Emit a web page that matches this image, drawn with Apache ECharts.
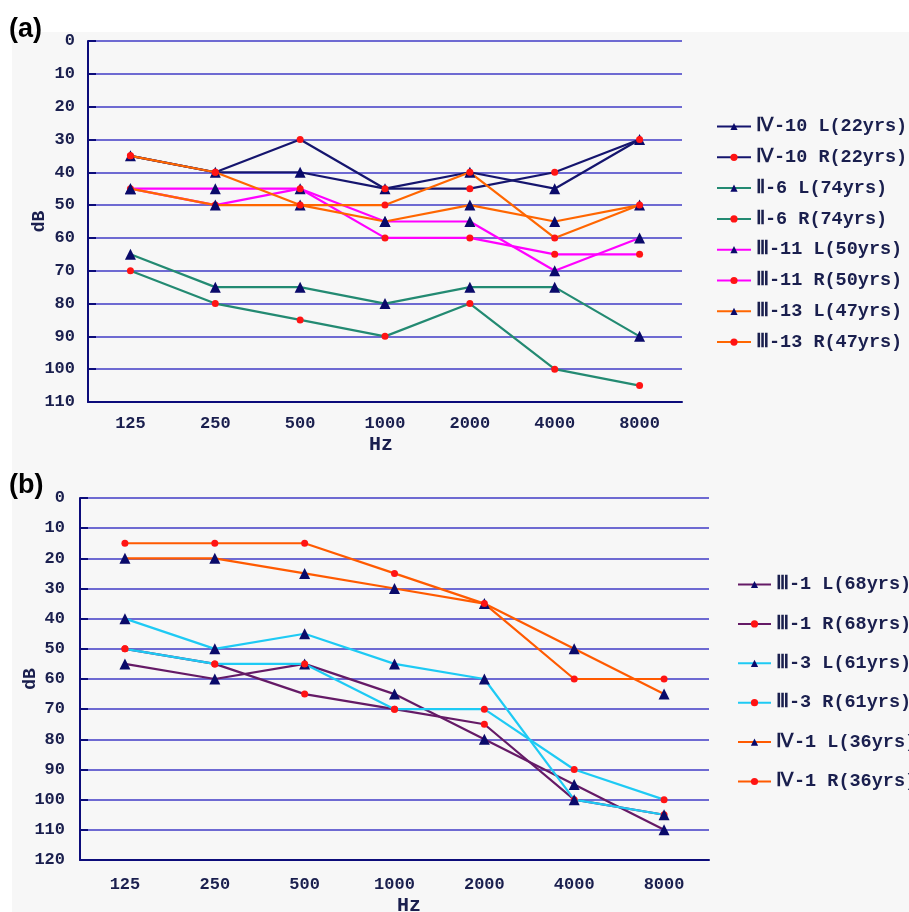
<!DOCTYPE html>
<html>
<head>
<meta charset="utf-8">
<script src="https://cdn.jsdelivr.net/npm/echarts@6/dist/echarts.min.js"></script>
<style>
  html, body { margin: 0; padding: 0; background: #ffffff; }
  #wrap { position: relative; width: 909px; height: 912px; background: #ffffff; overflow: hidden; }
  #bg { position: absolute; left: 12px; top: 32px; right: 0; bottom: 0; background: #f7f7f7; }
  #chart { position: absolute; left: 0; top: 0; width: 909px; height: 912px; }
</style>
</head>
<body>
<div id="wrap"><div id="bg"></div><div id="chart"></div></div>
<script>
// ---- data ----
const freqs = ['125', '250', '500', '1000', '2000', '4000', '8000'];
const yTicksA = [0, 110, 10];   // min, max, step of panel (a)
const yTicksB = [0, 120, 10];   // min, max, step of panel (b)

// panel (a)
const namesA = ['Ⅳ-10 L(22yrs)', 'Ⅳ-10 R(22yrs)', 'Ⅱ-6 L(74yrs)', 'Ⅱ-6 R(74yrs)',
                'Ⅲ-11 L(50yrs)', 'Ⅲ-11 R(50yrs)', 'Ⅲ-13 L(47yrs)', 'Ⅲ-13 R(47yrs)'];
const iv10L  = [35, 40, 40, 45, 40, 45, 30];
const iv10R  = [35, 40, 30, 45, 45, 40, 30];
const ii6L   = [65, 75, 75, 80, 75, 75, 90];
const ii6R   = [70, 80, 85, 90, 80, 100, 105];
const iii11L = [45, 45, 45, 55, 55, 70, 60];
const iii11R = [45, 50, 45, 60, 60, 65, 65];
const iii13L = [45, 50, 50, 55, 50, 55, 50];
const iii13R = [35, 40, 50, 50, 40, 60, 50];

// panel (b)
const namesB = ['Ⅲ-1 L(68yrs)', 'Ⅲ-1 R(68yrs)', 'Ⅲ-3 L(61yrs)', 'Ⅲ-3 R(61yrs)',
                'Ⅳ-1 L(36yrs)', 'Ⅳ-1 R(36yrs)'];
const iii1L = [55, 60, 55, 65, 80, 95, 110];
const iii1R = [50, 55, 65, 70, 75, 100, 105];
const iii3L = [40, 50, 45, 55, 60, 100, 105];
const iii3R = [50, 55, 55, 70, 70, 90, 100];
const iv1L  = [20, 20, 25, 30, 35, 50, 65];
const iv1R  = [15, 15, 15, 25, 35, 60, 60];

// ---- styles ----
const FONT = '"Liberation Mono", "DejaVu Sans Mono", monospace';
const TXT = '#1a1f4e';
const AXIS = '#0c0c7a';
const GRID = '#6e6ad2';
const TRI = '#0a0a6a';
const DOT = '#ff1414';

const colA = ['#15156e', '#15156e', '#238a72', '#238a72', '#ff00ff', '#ff00ff', '#ff6600', '#ff6600'];
const colB = ['#651a66', '#651a66', '#1ecaf4', '#1ecaf4', '#ff5a00', '#ff5a00'];
const dataA = [iv10L, iv10R, ii6L, ii6R, iii11L, iii11R, iii13L, iii13R];
const dataB = [iii1L, iii1R, iii3L, iii3R, iv1L, iv1R];

function mkSeries(names, datas, cols, gi) {
  return names.map((n, i) => {
    const isL = i % 2 === 0;
    return {
      name: n, type: 'line', xAxisIndex: gi, yAxisIndex: gi,
      data: datas[i],
      symbol: isL ? 'triangle' : 'circle',
      symbolSize: isL ? 11 : 7,
      showAllSymbol: true,
      itemStyle: { color: isL ? TRI : DOT },
      lineStyle: { color: cols[i], width: 2.2 },
      emphasis: { disabled: true },
      animation: false
    };
  });
}

function xAx(gi, margin, gap, pad) {
  return {
    type: 'category', gridIndex: gi, data: freqs, boundaryGap: true,
    axisLine: { onZero: false, lineStyle: { color: AXIS, width: 2 } },
    axisTick: { inside: true, length: 8, interval: 0, lineStyle: { color: AXIS, width: 2 } },
    axisLabel: { margin: margin, color: TXT, fontFamily: FONT, fontSize: 17, fontWeight: 'bold' },
    splitLine: { show: false },
    name: 'Hz', nameLocation: 'middle', nameGap: gap, nameMoveOverlap: false,
    nameTextStyle: { color: TXT, fontFamily: FONT, fontSize: 20, fontWeight: 'bold', padding: pad }
  };
}
function yAx(gi, t, margin, gap) {
  return {
    type: 'value', gridIndex: gi, inverse: true, min: t[0], max: t[1], interval: t[2],
    axisLine: { show: true, lineStyle: { color: AXIS, width: 2 } },
    axisTick: { show: true, inside: true, length: 8, lineStyle: { color: AXIS, width: 2 } },
    axisLabel: { margin: margin, color: TXT, fontFamily: FONT, fontSize: 17, fontWeight: 'bold' },
    splitLine: { show: true, lineStyle: { color: GRID, width: 2 } },
    name: 'dB', nameLocation: 'middle', nameGap: gap, nameMoveOverlap: false,
    nameTextStyle: { color: TXT, fontFamily: FONT, fontSize: 18, fontWeight: 'bold' }
  };
}

const chart = echarts.init(document.getElementById('chart'), null, { renderer: 'canvas' });
chart.setOption({
  backgroundColor: 'transparent',
  animation: false,
  grid: [
    { left: 88, top: 41, width: 594, height: 361, outerBoundsMode: 'none', containLabel: false },
    { left: 80, top: 498, width: 629, height: 362, outerBoundsMode: 'none', containLabel: false }
  ],
  xAxis: [xAx(0, 13, 33, [0, 8, 0, 0]), xAx(1, 16, 36, [0, 0, 0, 29])],
  yAxis: [yAx(0, yTicksA, 13, 40), yAx(1, yTicksB, 15, 41)],
  legend: [
    {
      data: namesA, orient: 'vertical', left: 716, top: 117, padding: 0,
      itemWidth: 34, itemHeight: 9, itemGap: 11.8,
      textStyle: { color: TXT, fontFamily: FONT, fontSize: 18.5, fontWeight: 'bold', lineHeight: 19 },
      selectedMode: false
    },
    {
      data: namesB, orient: 'vertical', left: 737, top: 575, padding: 0,
      itemWidth: 33, itemHeight: 9, itemGap: 20.4,
      textStyle: { color: TXT, fontFamily: FONT, fontSize: 18.5, fontWeight: 'bold', lineHeight: 19 },
      selectedMode: false
    }
  ],
  graphic: [
    { type: 'text', left: 9, top: 16, style: { text: '(a)', font: 'bold 27px "Liberation Sans", Arial, sans-serif', fill: '#000' } },
    { type: 'text', left: 9, top: 472, style: { text: '(b)', font: 'bold 27px "Liberation Sans", Arial, sans-serif', fill: '#000' } }
  ],
  series: mkSeries(namesA, dataA, colA, 0).concat(mkSeries(namesB, dataB, colB, 1))
});
</script>
</body>
</html>
